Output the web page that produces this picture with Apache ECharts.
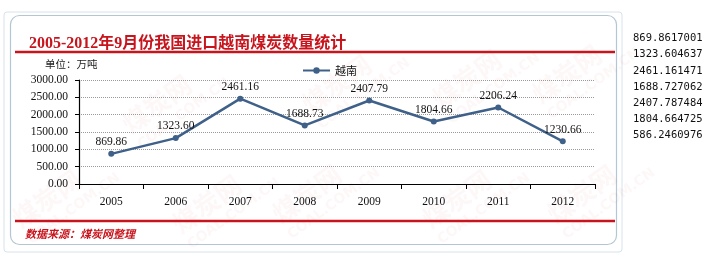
<!DOCTYPE html>
<html>
<head>
<meta charset="utf-8">
<script src="https://cdn.jsdelivr.net/npm/echarts@6/dist/echarts.min.js"></script>
<style>
  html, body { margin: 0; padding: 0; background: #ffffff; }
  #chart { width: 722px; height: 261px; }
</style>
</head>
<body>
<div id="chart"></div>
<script>
// Vietnam coal imports into China, September of each year (10k tonnes)
const years = ['2005', '2006', '2007', '2008', '2009', '2010', '2011', '2012'];
const vietnamImports = [869.86, 1323.60, 2461.16, 1688.73, 2407.79, 1804.66, 2206.24, 1230.66];
const seriesName = '越南';
const yTicks = { min: 0, max: 3000, interval: 500 };
// raw worksheet values listed beside the chart
const sourceCells = ['869.8617001', '1323.604637', '2461.161471', '1688.727062', '2407.787484', '1804.664725', '586.2460976'];

const titleText = '2005-2012年9月份我国进口越南煤炭数量统计';
const unitText = '单位：万吨';
const sourceText = '数据来源：煤炭网整理';

const SERIF = '"Liberation Serif", "Noto Sans CJK SC", serif';
const CJK = '"Noto Sans CJK SC", sans-serif';
const RED = '#c8141c';
const LINE = '#3f6189';

const chart = echarts.init(document.getElementById('chart'));

// faint site watermarks behind the card content
const marks = [];
[[40, 205], [150, 110], [300, 200], [330, 90], [460, 85], [560, 80], [450, 205], [575, 200], [200, 210]].forEach(([x, y]) => {
  marks.push({
    type: 'group', x: x, y: y, rotation: Math.PI / 5, z: -5,
    children: [
      { type: 'text', x: -30, y: -14, style: { text: '煤炭网', font: 'bold 26px ' + CJK, fill: 'rgba(215,70,70,0.045)' } },
      { type: 'text', x: -30, y: 16, style: { text: 'COAL.COM.CN', font: 'bold 14px "DejaVu Sans"', fill: 'rgba(215,70,70,0.045)' } }
    ]
  });
});

const sideTexts = sourceCells.map((s, i) => ({
  type: 'text', left: 633, top: 33 + i * 16.2,
  style: { text: s, font: '10.5px "DejaVu Sans Mono", monospace', fill: '#111' }
}));

chart.setOption({
  animation: false,
  backgroundColor: '#ffffff',
  title: {
    text: titleText,
    left: 24, top: 31,
    textStyle: { fontSize: 16, fontWeight: 'bold', color: RED, fontFamily: SERIF }
  },
  legend: {
    data: [seriesName],
    left: 297, top: 60,
    itemWidth: 27, itemHeight: 8,
    textStyle: { fontSize: 11, color: '#111', fontFamily: CJK }
  },
  grid: { left: 79, right: 127, top: 80, bottom: 77, containLabel: false },
  xAxis: {
    type: 'category',
    data: years,
    boundaryGap: true,
    axisLine: { lineStyle: { color: '#000', width: 1.2 } },
    axisTick: { show: true, length: 5, interval: 0, lineStyle: { color: '#000' } },
    axisLabel: { margin: 12, fontSize: 11.5, color: '#111', fontFamily: SERIF }
  },
  yAxis: {
    type: 'value',
    min: yTicks.min, max: yTicks.max, interval: yTicks.interval,
    axisLine: { show: true, lineStyle: { color: '#000', width: 1.2 } },
    axisTick: { show: true, length: 4, lineStyle: { color: '#000' } },
    axisLabel: { margin: 11, fontSize: 11.5, color: '#111', fontFamily: SERIF, formatter: v => v.toFixed(2) },
    splitLine: { show: true, lineStyle: { color: '#9a9a9a', type: 'dotted', width: 1 } }
  },
  series: [{
    name: seriesName,
    type: 'line',
    data: vietnamImports,
    symbol: 'circle',
    symbolSize: 6,
    lineStyle: { color: LINE, width: 2.5 },
    itemStyle: { color: LINE },
    label: {
      show: true, position: 'top', distance: 3,
      fontSize: 11.5, color: '#111', fontFamily: SERIF,
      formatter: p => p.value.toFixed(2)
    }
  }],
  graphic: [
    // card frame
    { type: 'rect', z: -20, shape: { x: 4, y: 12, width: 618, height: 240, r: 3 },
      style: { fill: '#ffffff', stroke: '#d6e2ea', lineWidth: 1 } },
    { type: 'rect', z: -10, shape: { x: 10.5, y: 15.5, width: 606, height: 229, r: 9 },
      style: { fill: '#ffffff', stroke: '#b3c7d3', lineWidth: 1.2 } },
    ...marks,
    // red rules under the title and above the source note
    { type: 'line', z: 5, shape: { x1: 15, y1: 52, x2: 615, y2: 52 }, style: { stroke: RED, lineWidth: 2.5 } },
    { type: 'line', z: 5, shape: { x1: 15, y1: 221, x2: 615, y2: 221 }, style: { stroke: RED, lineWidth: 2.5 } },
    { type: 'text', left: 45, top: 59, style: { text: unitText, font: '10.5px ' + CJK, fill: '#222' } },
    { type: 'text', left: 25, top: 228, style: { text: sourceText, font: 'italic bold 11px ' + CJK, fill: RED } },
    ...sideTexts
  ]
});
</script>
</body>
</html>
